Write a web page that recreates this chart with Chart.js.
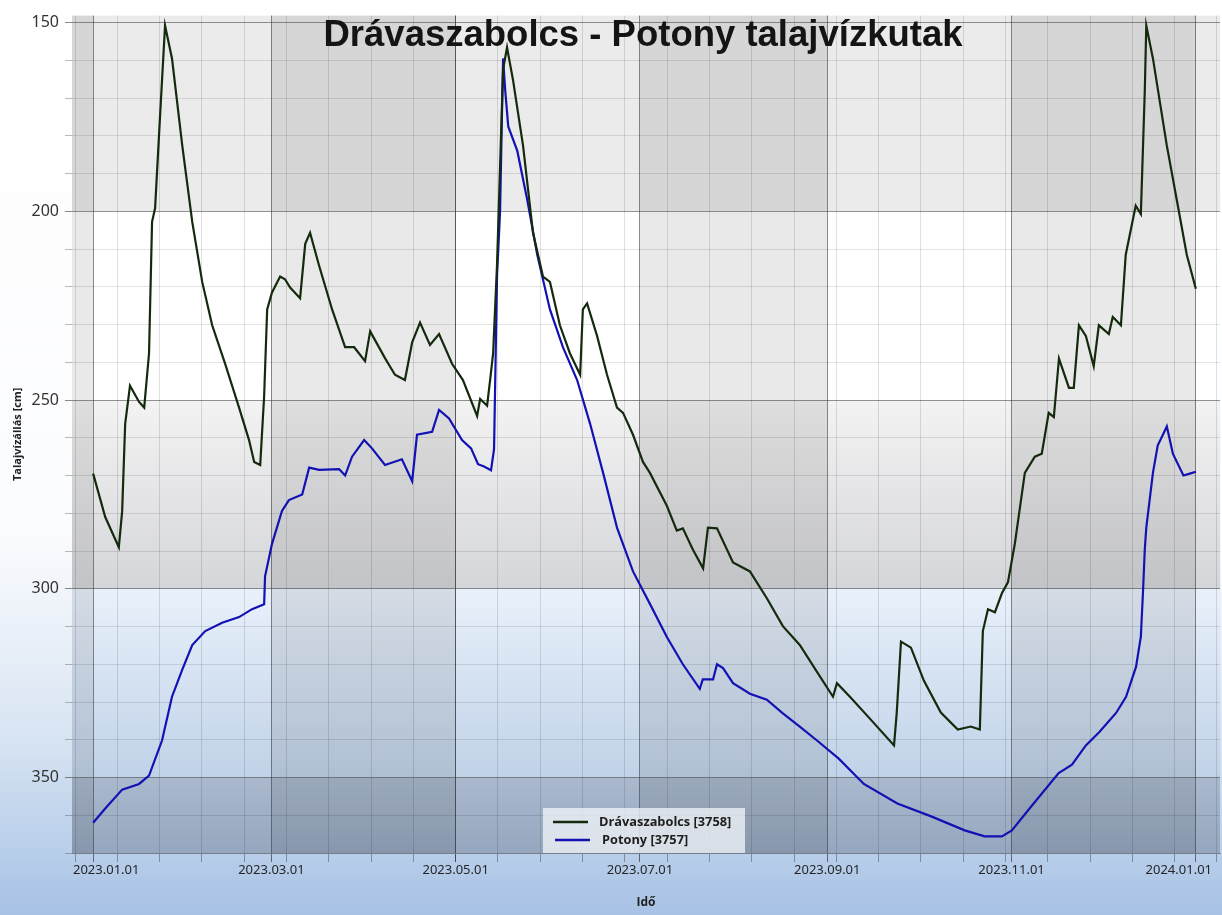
<!DOCTYPE html>
<html>
<head>
<meta charset="utf-8">
<script src="https://cdn.jsdelivr.net/npm/chart.js@4.4.1/dist/chart.umd.min.js"></script>
<style>
  html, body { margin: 0; padding: 0; background: #fff; }
</style>
</head>
<body>
<canvas id="myChart" width="1222" height="915"></canvas>
<script>
// Talajvízállás adatok (nap = napok száma 2023.01.01 óta)
const chartTitle = 'Drávaszabolcs - Potony talajvízkutak'
const seriesNames = ['Drávaszabolcs [3758]', 'Potony [3757]']

const dravaDays = [
  0, 4, 8.5, 9.6, 10.6, 12.2, 15.2, 16.9, 18.5, 19.5,
  20.5, 22.2, 23.8, 26.1, 29.5, 32.8, 36.1, 39.4, 43.7, 48.3,
  51.6, 53.3, 55.3, 56.6, 57.6, 59.2, 61.9, 63.5, 65.2, 68.5,
  70.2, 71.8, 74.8, 79.1, 83.4, 86.4, 90, 91.7, 96.6, 99.9,
  103.2, 105.6, 108.2, 111.5, 114.5, 118.8, 122.4, 127.1, 128.1, 130.4,
  131.4, 132.4, 133.7, 134.7, 135.7, 137, 139, 142.3, 145.6, 148.9,
  151.2, 154.5, 157.8, 161.2, 162.1, 163.5, 166.8, 170.1, 173.4, 175.4,
  178.7, 182, 184.3, 189.9, 193.2, 195.2, 198.5, 201.9, 203.5, 206.5,
  211.8, 217.4, 223, 228.3, 233.9, 239.6, 244.9, 246.2, 250.5, 257.1,
  265.1, 266, 267.4, 270.7, 275, 280.6, 286.2, 290.5, 293.5, 294.5,
  296.2, 298.5, 300.8, 302.8, 305.1, 308.4, 311.7, 314, 316.3, 318,
  319.7, 323, 324.6, 326.3, 328.6, 331.2, 332.9, 336.2, 337.5, 340.2,
  341.8, 345.1, 346.8, 348.1, 348.6, 350.8, 355.4, 358.7, 362, 365
]
const dravaLevels = [
  269.5, 281, 289, 279.5, 256.3, 246.2, 250.5, 252, 237.6, 202.8,
  199.2, 174, 150.8, 159.5, 182.6, 202.8, 218.7, 230.2, 240.4, 252,
  260.6, 266.4, 267.2, 249, 226, 221.5, 217.3, 218, 220.2, 223,
  208.6, 205.7, 214.4, 226, 236, 236, 239.7, 231.8, 238.9, 243.3,
  244.7, 234.7, 229.5, 235.4, 232.5, 240.4, 244.7, 254.2, 249.7, 251.5,
  244.7, 237.6, 214, 188, 162.4, 156.6, 165.3, 182.6, 205.7, 217.3,
  218.7, 230.2, 237.6, 243.3, 226, 224.4, 233, 243.3, 252, 253.4,
  259.2, 266.4, 269.3, 278, 284.6, 284, 289.6, 294.6, 283.8, 284,
  293, 295.4, 302.5, 309.9, 314.9, 322, 328.6, 325, 328.6, 334.4,
  341.5, 332.8, 314, 315.6, 324.4, 332.8, 337.3, 336.5, 337.3, 311.2,
  305.4, 306.2, 301.2, 298.3, 288, 269.3, 265, 264.2, 253.4, 254.5,
  239, 246.8, 246.8, 230.2, 233, 241, 230.2, 232.5, 228, 230.2,
  211.5, 198.5, 200.7, 168.2, 150.8, 159.5, 182.6, 197, 211.5, 220.5
]

const potonyDays = [
  0, 4, 9.6, 15.2, 18.5, 22.8, 26.1, 29.5, 32.8, 37.1,
  42.7, 48.3, 52.6, 56.6, 56.9, 59.2, 62.5, 64.8, 69.2, 71.5,
  74.8, 81.4, 83.4, 85.7, 89.7, 92.3, 96.6, 102.2, 105.6, 107.2,
  112.2, 114.5, 117.8, 122.1, 125.1, 127.4, 129.4, 131.7, 132.7, 133.7,
  134.7, 135.4, 135.7, 136.4, 137.4, 140.4, 143.7, 147, 151.2, 155.5,
  160.2, 164.5, 168.8, 173.4, 178.7, 184.3, 189.9, 195.2, 200.8, 201.8,
  205.2, 206.5, 208.5, 211.8, 217.4, 223, 228.3, 233.9, 239.6, 246.8,
  255.1, 266.2, 277.4, 288.5, 295.1, 300.8, 304.1, 310.7, 319.6, 324,
  328.6, 333, 338.6, 341.9, 345.2, 346.8, 347.5, 348.1, 348.6, 350.8,
  352.4, 354.1, 355.4, 356.4, 357.4, 360.9, 363, 365
]
const potonyLevels = [
  362, 358.2, 353.2, 351.7, 349.5, 340.2, 328.6, 321.4, 314.9, 311.2,
  309, 307.5, 305.4, 304.1, 296.7, 288.1, 279.4, 276.5, 275, 267.9,
  268.5, 268.3, 270, 265, 260.6, 262.8, 267.2, 265.7, 271.5, 259.2,
  258.4, 252.6, 254.9, 260.6, 262.8, 267, 267.6, 268.6, 263, 217,
  200, 171, 159.5, 168, 177.5, 184, 197, 211.5, 226, 236,
  244.7, 256.3, 269.3, 283.8, 295.4, 304, 312.8, 320, 326.5, 324,
  324, 320, 321, 325, 327.8, 329.4, 333, 336.5, 340.2, 345,
  351.7, 356.9, 360.3, 364, 365.6, 365.6, 364, 357.5, 348.8, 346.6,
  341.5, 338, 332.9, 328.6, 320.7, 312.7, 301, 289.6, 283.8, 269.3,
  262, 259.2, 257, 260.6, 264.2, 270, 269.5, 269
]

// x tengely: kéthavonta feliratozott napok, kéthetes segédrács
const monthTicks = [0, 59, 120, 181, 243, 304, 365]
const monthLabels = ['2023.01.01', '2023.03.01', '2023.05.01', '2023.07.01', '2023.09.01', '2023.11.01', '2024.01.01']
const weekTicks = [-6, 8, 22, 36, 50, 64, 78, 92, 106, 120, 134, 148, 162, 176, 190, 204, 218, 232, 246, 260, 274, 288, 302, 316, 330, 344, 358, 372]
const levelTicks = [150, 160, 170, 180, 190, 200, 210, 220, 230, 240, 250, 260, 270, 280, 290, 300, 310, 320, 330, 340, 350, 360, 370]

const toPoints = (days, vals) => days.map((d, i) => ({ x: d, y: vals[i] }))

// sötétebb sávok (napokban) és a sorok színei
const darkCols = [[-7, 0], [59, 120], [181, 243], [304, 365]]
const rowBands = [
  [148, 200, '#ebebeb', '#ebebeb'],
  [200, 250, '#ffffff', '#ffffff'],
  [250, 300, '#f3f3f3', '#d5d6da'],
  [300, 350, '#e9f1fb', '#c0d2e8'],
  [350, 370, '#aab9ce', '#95a6be'],
]

const bgPlugin = {
  id: 'bg',
  beforeDraw(chart) {
    const { ctx, chartArea: a, scales: { x, y } } = chart
    ctx.save()
    let g = ctx.createLinearGradient(0, 0, 0, chart.height)
    g.addColorStop(0, '#ffffff')
    g.addColorStop(0.58, '#fbfcfe')
    g.addColorStop(0.8, '#d9e5f3')
    g.addColorStop(1, '#a7c2e5')
    ctx.fillStyle = g
    ctx.fillRect(0, 0, chart.width, chart.height)
    rowBands.forEach((r) => {
      const y0 = y.getPixelForValue(r[0])
      const y1 = y.getPixelForValue(r[1])
      const top = Math.max(Math.min(y0, y1), a.top)
      const bot = Math.min(Math.max(y0, y1), a.bottom)
      const rg = ctx.createLinearGradient(0, top, 0, bot)
      rg.addColorStop(0, r[2])
      rg.addColorStop(1, r[3])
      ctx.fillStyle = rg
      ctx.fillRect(a.left, top, a.right - a.left, bot - top)
    })
    ctx.fillStyle = 'rgba(0,0,0,0.085)'
    darkCols.forEach((c) => {
      const x0 = Math.max(x.getPixelForValue(c[0]), a.left)
      const x1 = Math.min(x.getPixelForValue(c[1]), a.right)
      ctx.fillRect(x0, a.top, x1 - x0, a.bottom - a.top)
    })
    ctx.restore()
  },
  afterDraw(chart) {
    const { ctx, chartArea: a, scales: { x } } = chart
    ctx.save()
    // cím
    ctx.font = 'bold 36.5px "Liberation Sans", Arial, sans-serif'
    ctx.fillStyle = '#141414'
    ctx.textAlign = 'center'
    ctx.textBaseline = 'alphabetic'
    ctx.fillText(chartTitle, (a.left + a.right) / 2 - 3, a.top + 30)
    // dátum feliratok
    ctx.font = '13px "Noto Sans", sans-serif'
    ctx.fillStyle = '#262626'
    ctx.textBaseline = 'middle'
    monthTicks.forEach((d, i) => {
      const w = ctx.measureText(monthLabels[i]).width
      let px = x.getPixelForValue(d)
      px = Math.min(Math.max(px, a.left + w / 2 + 1), a.right - w / 2 - 8)
      ctx.fillText(monthLabels[i], px, a.bottom + 17)
    })
    // jelmagyarázat
    const w = 202, h = 45
    const lx = (a.left + a.right) / 2 - w / 2 - 2
    const ly = a.bottom - h
    ctx.fillStyle = 'rgba(238,241,245,0.8)'
    ctx.fillRect(lx, ly, w, h)
    ctx.font = 'bold 12.8px "Open Sans", sans-serif'
    ctx.textAlign = 'left'
    chart.data.datasets.forEach((ds, i) => {
      const yy = ly + 14 + i * 18
      ctx.strokeStyle = ds.borderColor
      ctx.lineWidth = 2.5
      ctx.beginPath()
      ctx.moveTo(lx + 10 + i * 2, yy)
      ctx.lineTo(lx + 45 + i * 2, yy)
      ctx.stroke()
      ctx.fillStyle = '#1e1e1e'
      ctx.fillText(ds.label, lx + 56 + i * 3, yy)
    })
    ctx.restore()
  },
}

const ctx = document.getElementById('myChart').getContext('2d')
const myChart = new Chart(ctx, {
  type: 'line',
  data: {
    datasets: [
      {
        label: seriesNames[0],
        data: toPoints(dravaDays, dravaLevels),
        borderColor: '#142a0c',
        borderWidth: 2.2,
        pointRadius: 0,
        tension: 0,
      },
      {
        label: seriesNames[1],
        data: toPoints(potonyDays, potonyLevels),
        borderColor: '#1212b4',
        borderWidth: 2.2,
        pointRadius: 0,
        tension: 0,
      },
    ],
  },
  options: {
    responsive: false,
    animation: false,
    devicePixelRatio: 1,
    layout: { padding: { top: 12, right: 2, left: 0, bottom: 0 } },
    plugins: {
      legend: { display: false },
      tooltip: { enabled: false },
    },
    scales: {
      x: {
        type: 'linear',
        min: -7,
        max: 373,
        afterBuildTicks: (s) => {
          s.ticks = [...weekTicks, ...monthTicks].sort((p, q) => p - q).map((v) => ({ value: v }))
        },
        afterFit: (s) => { s.height = 62 },
        ticks: { autoSkip: false, maxRotation: 0, callback: () => '' },
        grid: {
          color: (c) => (c.tick && monthTicks.includes(c.tick.value) ? 'rgba(60,60,60,0.6)' : 'rgba(0,0,0,0.12)'),
          tickColor: (c) => (c.tick && monthTicks.includes(c.tick.value) ? 'rgba(60,60,60,0.7)' : 'rgba(60,60,60,0.45)'),
          tickLength: 9,
        },
        border: { color: 'rgba(70,70,70,0.5)' },
        title: {
          display: true,
          text: 'Idő',
          color: '#222',
          font: { family: '"Open Sans", sans-serif', size: 12, weight: 'bold' },
          padding: { top: 0, bottom: 5 },
        },
      },
      y: {
        reverse: true,
        min: 148.15,
        max: 370,
        afterBuildTicks: (s) => {
          s.ticks = levelTicks.map((v) => ({ value: v }))
        },
        afterFit: (s) => { s.width = 72 },
        ticks: {
          callback: (v) => (v % 50 === 0 ? String(v) : ''),
          color: '#333',
          font: { family: '"Noto Sans", sans-serif', size: 16 },
          padding: 6,
        },
        grid: {
          color: (c) => (c.tick && c.tick.value % 50 === 0 ? 'rgba(60,60,60,0.55)' : 'rgba(0,0,0,0.11)'),
          tickColor: (c) => (c.tick && c.tick.value % 50 === 0 ? 'rgba(60,60,60,0.6)' : 'rgba(60,60,60,0.35)'),
          tickLength: 7,
        },
        border: { display: false },
        title: {
          display: true,
          text: 'Talajvízállás [cm]',
          color: '#222',
          font: { family: '"Open Sans", sans-serif', size: 11, weight: 'bold' },
          padding: { top: 11, bottom: 0 },
        },
      },
    },
  },
  plugins: [bgPlugin],
})
</script>
</body>
</html>
